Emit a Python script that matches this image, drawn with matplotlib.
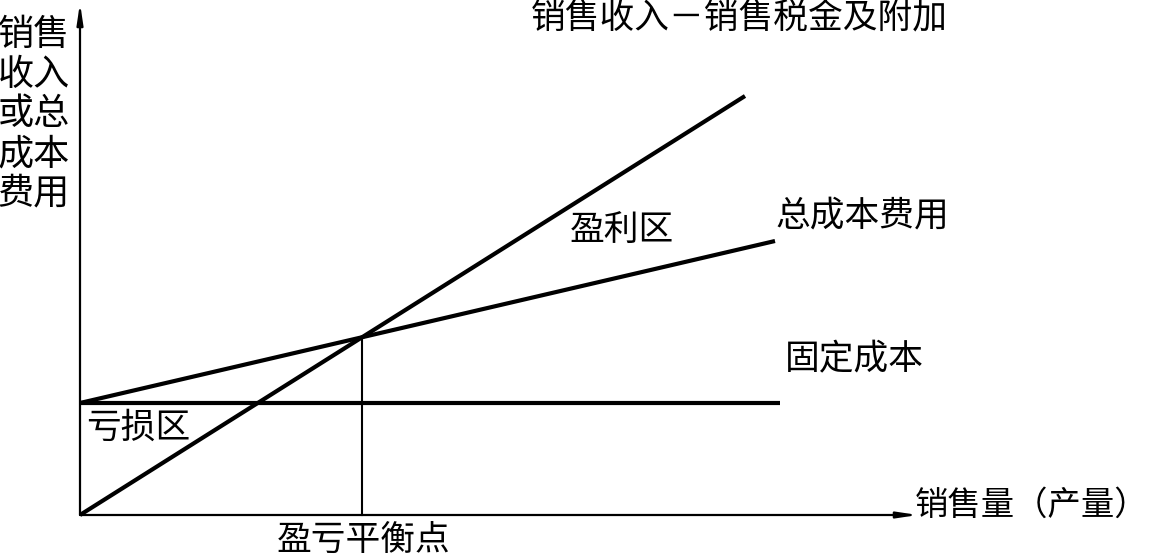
import matplotlib
matplotlib.use("Agg")
import matplotlib.pyplot as plt

plt.rcParams['font.family'] = ['Noto Sans CJK SC', 'DejaVu Sans']

# Data (quantity vs money, arbitrary units)
revenue_q = [0, 665]
revenue_v = [0, 419]
total_cost_q = [0, 695]
total_cost_v = [112, 274]
fixed_cost_q = [0, 700]
fixed_cost_v = [112, 112]
breakeven_q = 282
breakeven_v = 177

y_label_rows = ["销售", "收入", "或总", "成本", "费用"]
title_text = "销售收入－销售税金及附加"

fig = plt.figure(figsize=(11.53, 5.56), dpi=100)
ax = fig.add_axes([0, 0, 1, 1])
ax.set_xlim(-80, 1073)
ax.set_ylim(-41, 515)
ax.axis('off')

# axes with arrows
ax.annotate("", xy=(838, 0), xytext=(0, 0),
            arrowprops=dict(arrowstyle='-|>,head_length=1.2,head_width=0.18',
                            lw=1.6, color='black', shrinkA=0, shrinkB=0))
ax.annotate("", xy=(0, 512), xytext=(0, 0),
            arrowprops=dict(arrowstyle='-|>,head_length=1.2,head_width=0.18',
                            lw=1.6, color='black', shrinkA=0, shrinkB=0))

# lines
ax.plot(revenue_q, revenue_v, color='black', lw=3.0, solid_capstyle='butt')
ax.plot(total_cost_q, total_cost_v, color='black', lw=3.0, solid_capstyle='butt')
ax.plot(fixed_cost_q, fixed_cost_v, color='black', lw=3.0, solid_capstyle='butt')
ax.plot([breakeven_q, breakeven_q], [0, breakeven_v], color='black', lw=1.5)

fs = 25
# y label rows
for i, row in enumerate(y_label_rows):
    ax.text(-46, 515 - (35 + 39.7 * i), row, fontsize=26, ha='center', va='center')

ax.text(659, 515 - 19, title_text, fontsize=fs, ha='center', va='center')
ax.text(542, 515 - 230, "盈利区", fontsize=fs, ha='center', va='center')
ax.text(782, 515 - 216, "总成本费用", fontsize=fs, ha='center', va='center')
ax.text(774, 515 - 360, "固定成本", fontsize=fs, ha='center', va='center')
ax.text(58, 515 - 428, "亏损区", fontsize=fs, ha='center', va='center')
ax.text(284, 515 - 540, "盈亏平衡点", fontsize=fs, ha='center', va='center')
ax.text(1068, 515 - 505, "销售量（产量）", fontsize=24, ha='right', va='center')

fig.savefig("out.png", dpi=100, facecolor='white')
